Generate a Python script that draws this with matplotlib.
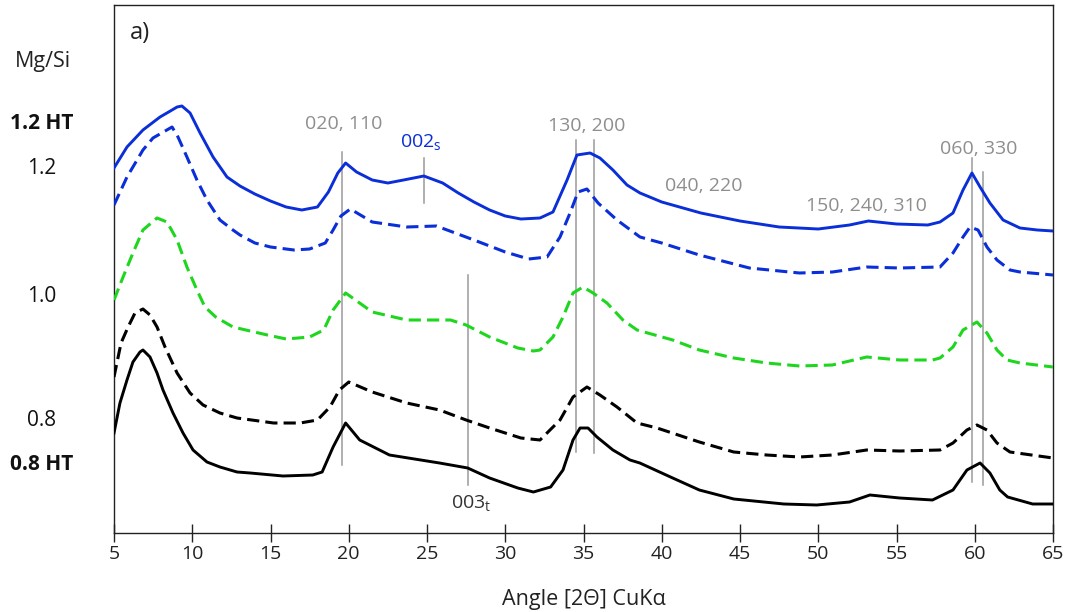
import matplotlib
matplotlib.use("Agg")
import matplotlib.pyplot as plt

plt.rcParams['font.family'] = ['Open Sans', 'DejaVu Sans']
plt.rcParams['mathtext.fontset'] = 'custom'
plt.rcParams['mathtext.rm'] = 'Open Sans'
plt.rcParams['mathtext.it'] = 'Open Sans'

# ---------------- data (angle 2theta, intensity in arbitrary offset units) ----------------
ang_ht12 = [5, 5.83, 6.85, 7.94, 8.6, 9.03, 9.34, 9.86, 10.5, 11.33, 12.22, 13.05, 14, 15, 16, 17, 18,
            18.7, 19.3, 19.8, 20.5, 21.5, 22.5, 23.5, 24.8, 26, 27, 28, 29, 30, 31, 32.22, 33.05,
            33.95, 34.58, 35.42, 36.05, 36.88, 37.78, 38.61, 40, 42.5, 45, 47.5, 50, 52, 53.2, 55,
            57, 57.78, 58.61, 59.25, 59.82, 60.34, 60.97, 61.81, 62.89, 64, 65]
ypx_ht12 = [168, 147, 130, 117, 111, 107, 106, 113, 133, 157, 177, 186, 194, 201, 207, 210, 207,
            192, 173, 163, 172, 180, 183, 180, 176, 183, 193, 202, 210, 216, 219, 218, 212,
            180, 155, 153, 158, 170, 185, 193, 202, 213, 221, 227, 229, 225, 221, 224,
            225, 222, 213, 190, 173, 187, 203, 220, 228, 230, 231]

ang_s12 = [5, 5.83, 6.85, 7.49, 8.71, 9.09, 9.66, 10.3, 10.94, 11.77, 12.6, 13.05, 14, 15, 16.5,
           17.5, 18.5, 19, 19.5, 20.1, 21.5, 23.7, 25.6, 28, 30, 31.5, 32.67, 33.5, 34.14, 34.65,
           35.22, 35.93, 37.14, 38.61, 40, 42.4, 45.6, 48.8, 50.9, 53.1, 55.2, 57.78, 58.61,
           59.25, 59.7, 60.21, 60.78, 61.42, 62.25, 62.89, 65]
ypx_s12 = [205, 177, 150, 138, 127, 137, 157, 180, 200, 220, 230, 235, 243, 247, 250,
           249, 243, 230, 216, 209, 222, 227, 226, 240, 252, 259, 257, 237, 213, 192,
           189, 203, 220, 237, 243, 255, 268, 273, 272, 267, 268, 267, 253,
           237, 227, 230, 247, 260, 270, 272, 275]

ang_s10 = [5, 5.58, 6.21, 6.85, 7.75, 8.39, 9.03, 9.66, 10.3, 10.81, 11.5, 12.6, 14.8, 16, 17.5,
           18.4, 19, 19.8, 21.5, 23.7, 26.5, 27.5, 29, 30.8, 31.8, 32.22, 33.05, 33.69, 34.33,
           34.97, 35.61, 36.5, 37.52, 38.42, 40.7, 42.4, 44.6, 46.7, 48.8, 50.9, 53.1, 55.2,
           57.3, 57.78, 58.61, 59.25, 60.14, 60.78, 61.42, 62.06, 62.89, 65]
ypx_s10 = [300, 277, 253, 230, 218, 222, 240, 267, 290, 307, 317, 327, 335, 339, 337,
           330, 310, 293, 312, 320, 320, 325, 337, 348, 351, 350, 337, 317, 293,
           287, 293, 303, 320, 330, 340, 350, 358, 363, 366, 365, 357, 360,
           360, 358, 347, 330, 322, 333, 350, 360, 363, 367]

ang_s08 = [5, 5.45, 5.9, 6.34, 6.85, 7.3, 7.75, 8.26, 9.03, 9.86, 10.69, 11.77, 12.86, 15.2, 16.9,
           18, 18.8, 19.4, 20, 21.5, 23.7, 25.8, 27.5, 29, 31, 32.22, 33.5, 34.33, 35.22, 36.05,
           37.14, 38.42, 39.7, 42.4, 44.6, 46.7, 48.8, 50.9, 53.1, 55.2, 57.78, 58.61, 59.5,
           60.14, 60.78, 61.42, 62.25, 65]
ypx_s08 = [377, 343, 327, 313, 309, 315, 327, 347, 373, 393, 405, 413, 418, 423, 423,
           420, 407, 390, 382, 392, 403, 410, 420, 428, 438, 440, 420, 397, 387, 395,
           407, 423, 428, 442, 452, 455, 457, 455, 450, 451, 450, 443, 430,
           425, 430, 443, 452, 458]

ang_ht08 = [5, 5.38, 5.83, 6.21, 6.66, 6.85, 7.3, 7.75, 8.13, 8.77, 9.41, 10.05, 10.94, 11.77,
            12.86, 13.7, 15.8, 17.7, 18.3, 19, 19.8, 20.7, 22.6, 25.8, 27.6, 29, 30.8, 31.8, 32.9,
            33.69, 34.33, 34.78, 35.29, 35.86, 36.88, 37.97, 38.6, 40.7, 42.4, 44.6, 47.8, 49.9,
            52, 53.3, 55.2, 57.3, 58.61, 59.5, 60.34, 60.97, 61.6, 62.1, 63.7, 65]
ypx_ht08 = [433, 403, 380, 362, 352, 350, 357, 373, 390, 413, 433, 450, 462, 467,
            472, 473, 476, 475, 472, 447, 423, 440, 455, 463, 468, 478, 488, 492, 487,
            470, 440, 428, 428, 437, 450, 460, 463, 478, 490, 499, 504, 505,
            502, 495, 498, 500, 490, 470, 463, 473, 490, 497, 504, 504]

BASE = 533.0
int_ht12 = [BASE - v for v in ypx_ht12]
int_s12 = [BASE - v for v in ypx_s12]
int_s10 = [BASE - v for v in ypx_s10]
int_s08 = [BASE - v for v in ypx_s08]
int_ht08 = [BASE - v for v in ypx_ht08]

xticks = [5, 10, 15, 20, 25, 30, 35, 40, 45, 50, 55, 60, 65]
series_labels = ['1.2 HT', '1.2', '1.0', '0.8', '0.8 HT']

# reflection marker lines: angle, top, bottom (intensity units)
refl_angle = [19.6, 24.8, 27.6, 34.5, 35.7, 59.8, 60.5]
refl_top = [BASE - v for v in [152, 158, 275, 140, 140, 158, 172]]
refl_bot = [BASE - v for v in [465, 203, 485, 452, 453, 482, 485]]

# ---------------- figure ----------------
W, H = 1068, 612
fig = plt.figure(figsize=(W / 100, H / 100), dpi=100)
ax = fig.add_axes([114 / W, 1 - 533 / H, (1053 - 114) / W, (533 - 5) / H])
ax.set_xlim(5, 65)
ax.set_ylim(0, 528)

blue = '#0a2ed8'
green = '#1ed61e'
gray = '#9a9a9a'
tgray = '#8e8e8e'

for a, t, b in zip(refl_angle, refl_top, refl_bot):
    ax.plot([a, a], [b, t], color=gray, lw=1.1, zorder=1)

ax.plot(ang_ht12, int_ht12, color=blue, lw=2.1, zorder=3)
ax.plot(ang_s12, int_s12, color=blue, lw=2.2, dashes=(4, 2), zorder=3)
ax.plot(ang_s10, int_s10, color=green, lw=2.2, dashes=(4, 2), zorder=3)
ax.plot(ang_s08, int_s08, color='black', lw=2.2, dashes=(4, 2), zorder=3)
ax.plot(ang_ht08, int_ht08, color='black', lw=2.1, zorder=3)

ax.set_xticks(xticks)
ax.set_xticklabels([str(v) for v in xticks])
ax.set_yticks([])
ax.tick_params(axis='x', direction='inout', length=13, width=1, labelsize=14,
               colors='#222222', pad=2)
for s in ax.spines.values():
    s.set_linewidth(1.0)
    s.set_color('#222222')

ax.set_xlabel('Angle [2Θ] CuKα', fontsize=15.5, color='#222222', labelpad=19)

fig.canvas.draw()


def px(xp, yp):
    """pixel -> data coordinates of the axes"""
    inv = ax.transData.inverted()
    return inv.transform((xp, H - yp))


def atext(xp, yp, s, **kw):
    x, y = px(xp, yp)
    ax.text(x, y, s, ha='center', va='center', **kw)


atext(140, 33, 'a)', fontsize=17, color='#222222')
atext(344, 124, '020, 110', fontsize=14, color=tgray)
atext(421, 142, '002$_\\mathregular{s}$', fontsize=14, color=blue)
atext(587, 126, '130, 200', fontsize=14, color=tgray)
atext(704, 186, '040, 220', fontsize=14, color=tgray)
atext(866, 206, '150, 240, 310', fontsize=14, color=tgray)
atext(979, 149, '060, 330', fontsize=14, color=tgray)
atext(471, 503, '003$_\\mathregular{t}$', fontsize=14, color='#333333')

# left-hand labels
fig.text(43 / W, 1 - 62 / H, 'Mg/Si', ha='center', va='center', fontsize=15.5, color='#222222')
label_y = [124, 168, 296, 420, 464]
for lab, yy in zip(series_labels, label_y):
    bold = 'HT' in lab
    fig.text(42 / W, 1 - yy / H, lab, ha='center', va='center', fontsize=15,
             fontweight='bold' if bold else 'normal', color='#111111')

fig.savefig('out.png', dpi=100)
